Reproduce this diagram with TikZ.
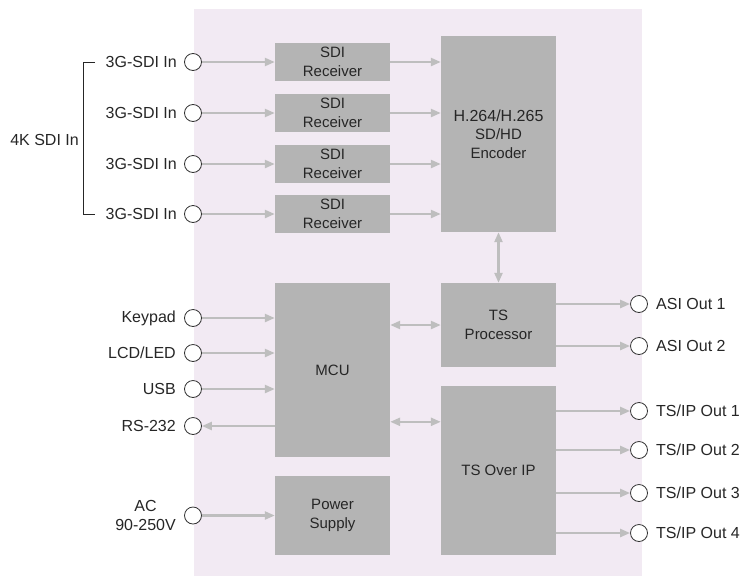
\documentclass[tikz,border=0pt]{standalone}
\usepackage{fontspec}
\setmainfont{Liberation Sans}
\usepackage{xcolor}
\usetikzlibrary{arrows.meta,calc}

\definecolor{boardbg}{HTML}{F2EAF3}
\definecolor{blockgray}{HTML}{B4B4B4}
\definecolor{linkgray}{HTML}{BEBEBE}

\tikzset{
  blk/.style={fill=blockgray,draw=none,align=center,inner sep=0pt,
    minimum width=115pt,font=\fontsize{15}{18.5}\selectfont},
  port/.style={draw=black!80,circle,fill=white,minimum size=17pt,inner sep=0pt,line width=0.8pt},
  lbl/.style={inner sep=0pt,align=center,font=\fontsize{16}{19.5}\selectfont},
  link/.style={draw=linkgray,line width=2.3pt,-{Triangle[length=10pt,width=8pt]}},
  dbl/.style={draw=linkgray,line width=2.3pt,{Triangle[length=10pt,width=8pt]}-{Triangle[length=10pt,width=8pt]}}
}

\begin{document}
\begin{tikzpicture}[x=1pt,y=-1pt,text=black!85]
  \useasboundingbox (0,0) rectangle (749,576);
  \fill[boardbg] (194,9) rectangle (642,576);

  % processing blocks
  \node[blk,minimum height=196pt] (enc) at (498.5,134)
    {{\fontsize{16}{19}\selectfont H.264/H.265}\\SD/HD\\Encoder};
  \node[blk,minimum height=84pt] (tsp) at (498.5,325) {TS\\Processor};
  \node[blk,minimum height=169pt] (tsip) at (498.5,470.5) {TS Over IP};
  \node[blk,minimum height=174pt] (mcu) at (332.5,370) {MCU};
  \node[blk,minimum height=79pt] (pwr) at (332.5,515.5) {Power\\Supply};

  % SDI inputs
  \foreach \i/\y in {1/62,2/113,3/164,4/214} {
    \node[blk,minimum height=38pt] (sdi\i) at (332.5,\y) {SDI\\Receiver};
    \node[port] (in\i) at (193,\y) {};
    \node[lbl,anchor=east] (inl\i) at (177,\y) {3G-SDI In};
    \draw[link] (in\i) -- (sdi\i);
    \draw[link] (sdi\i) -- (sdi\i -| enc.west);
  }
  \coordinate (bt) at (95,62);
  \coordinate (bb) at (95,214);
  \draw[black!85,line width=0.8pt] (bt) -- ++(-12,0) |- (bb);
  \node[lbl,anchor=east] (sdi4k) at (79,140) {4K SDI In};

  % control inputs
  \foreach \n/\t/\y in {kp/Keypad/318,lcd/LCD\slash LED/353,usb/USB/389,rs/RS-232/426} {
    \node[port] (\n) at (193,\y) {};
    \node[lbl,anchor=east] (\n l) at (176,\y) {\t};
  }
  \draw[link] (kp) -- (kp -| mcu.west);
  \draw[link] (lcd) -- (lcd -| mcu.west);
  \draw[link] (usb) -- (usb -| mcu.west);
  \draw[link] (rs -| mcu.west) -- (rs);

  \node[port] (ac) at (193,515.5) {};
  \node[lbl,anchor=east] (acl) at (176,515.5) {AC\\90-250V};
  \draw[link] (ac) -- (pwr);

  % internal links
  \draw[dbl] (enc.south) -- (tsp.north);
  \draw[dbl] (mcu.east |- tsp.west) -- (tsp.west);
  \coordinate (ipin) at ($(tsip.north west)+(0,36)$);
  \draw[dbl] (mcu.east |- ipin) -- (ipin);

  % outputs
  \foreach \n/\t/\y in {asi1/ASI Out 1/304,asi2/ASI Out 2/346,
      ip1/TS\slash IP Out 1/411,ip2/TS\slash IP Out 2/450,
      ip3/TS\slash IP Out 3/493,ip4/TS\slash IP Out 4/533} {
    \node[port] (\n) at (639,\y) {};
    \node[lbl,anchor=west] (\n l) at (656,\y) {\t};
  }
  \foreach \n in {asi1,asi2} \draw[link] (tsp.east |- \n) -- (\n);
  \foreach \n in {ip1,ip2,ip3,ip4} \draw[link] (tsip.east |- \n) -- (\n);
\end{tikzpicture}
\end{document}
